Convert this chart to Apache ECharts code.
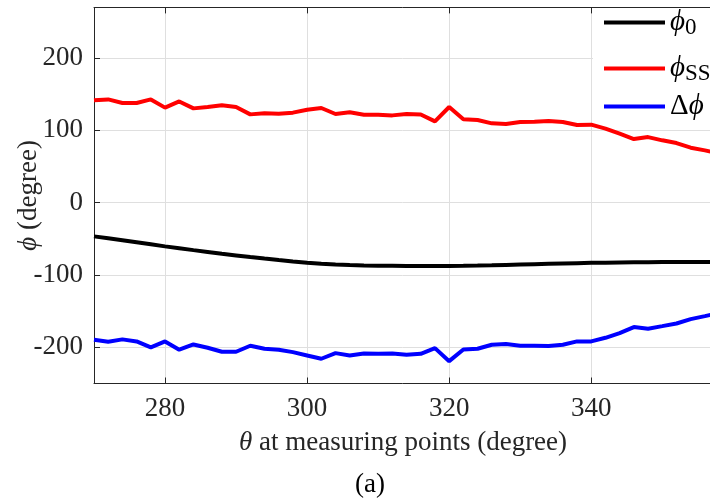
<!DOCTYPE html>
<html>
<head>
<meta charset="utf-8">
<script src="https://cdn.jsdelivr.net/npm/echarts@6/dist/echarts.min.js"></script>
<style>
  html, body { margin: 0; padding: 0; background: #fff; }
  #chart { width: 710px; height: 501px; }
</style>
</head>
<body>
<div id="chart"></div>
<script>
var theta = [270, 272, 274, 276, 278, 280, 282, 284, 286, 288, 290, 292, 294, 296, 298,
  300, 302, 304, 306, 308, 310, 312, 314, 316, 318, 320, 322, 324, 326, 328,
  330, 332, 334, 336, 338, 340, 342, 344, 346, 348, 350, 352, 354, 356, 358];

var phi0 = [-46.6, -49.3, -52, -54.8, -57.6, -60.4, -63, -65.6, -68.1, -70.6, -72.9, -75.2, -77.3, -79.3, -81.2,
  -83, -84.3, -85.4, -86.2, -86.8, -87.1, -87.3, -87.5, -87.6, -87.6, -87.5, -87.3, -87, -86.6, -86.1,
  -85.6, -85.1, -84.6, -84.1, -83.6, -83.2, -82.9, -82.6, -82.4, -82.2, -82.1, -82, -82, -82, -82];

var phiSS = [141.5, 142.8, 137.8, 137.8, 142.8, 131.4, 140, 130.4, 132.3, 134.6, 132.3, 122.1, 123.5, 123, 124.5,
  128.6, 130.9, 122.6, 124.9, 121.7, 121.7, 120.7, 122.6, 122, 112.4, 132.3, 115.2, 114.3, 109.7, 108.8,
  111.5, 112, 112.9, 111.5, 107.3, 107.9, 102.4, 95.4, 88, 90.7, 86.2, 82.4, 76, 72.3, 68];

var dphi = [-189.5, -192.3, -189, -191.8, -200.1, -191.8, -203.3, -196, -200.6, -206.1, -206.1, -197.8, -202, -203.3, -206.6,
  -211.2, -215.8, -208, -211.2, -208.4, -208.9, -208.5, -210.3, -208.9, -201.1, -219.1, -202.9, -202, -196.4, -195.5,
  -197.8, -197.8, -198.3, -196.4, -191.8, -191.8, -186.8, -180.4, -172, -174.3, -170.7, -167, -161, -156.8, -152.5];

var xTicks = [280, 300, 320, 340];
var yTicks = [-200, -100, 0, 100, 200];

var names = ['φ0', 'φSS', 'Δφ'];
var colors = ['#000000', '#ff0000', '#0000ff'];

var font = 'Liberation Serif';
var axisColor = '#262626';
var gridColor = '#dfdfdf';

var chart = echarts.init(document.getElementById('chart'));

function pairs(values) {
  return values.map(function (v, i) { return [theta[i], v]; });
}

function legendAt(name, top) {
  return {
    data: [name],
    left: 604,
    top: top,
    padding: 0,
    icon: 'rect',
    itemWidth: 61,
    itemHeight: 4,
    selectedMode: false,
    formatter: function (n) {
      if (n === 'φ0') return '{i|ϕ}{s|0}';
      if (n === 'φSS') return '{i|ϕ}{s|SS}';
      return '{n|Δ}{i|ϕ}';
    },
    textStyle: {
      color: '#000',
      fontFamily: font,
      rich: {
        i: { fontFamily: font, fontStyle: 'italic', fontSize: 29, lineHeight: 34, color: '#000' },
        n: { fontFamily: font, fontSize: 29, lineHeight: 34, color: '#000' },
        s: { fontFamily: font, fontSize: 23, lineHeight: 23, verticalAlign: 'bottom', color: '#000' }
      }
    }
  };
}

var option = {
  animation: false,
  backgroundColor: '#fff',
  grid: { left: 94, right: -2, top: 7.4, bottom: 117.5, outerBoundsMode: 'none', containLabel: false },
  legend: [legendAt('φ0', 8), legendAt('φSS', 54), legendAt('Δφ', 92)],
  xAxis: [{
    type: 'value',
    min: 270,
    max: 357,
    name: '{i|θ} at measuring points (degree)',
    nameLocation: 'middle',
    nameGap: 46,
    nameMoveOverlap: false,
    nameTextStyle: {
      fontFamily: font, fontSize: 27, color: '#262626',
      rich: { i: { fontFamily: font, fontStyle: 'italic', fontSize: 27, color: '#262626' } }
    },
    axisLine: { show: true, onZero: false, lineStyle: { color: axisColor, width: 1 } },
    axisTick: { show: true, inside: true, length: 6, customValues: xTicks, lineStyle: { color: axisColor } },
    axisLabel: { customValues: xTicks, margin: 12, fontFamily: font, fontSize: 27, color: '#262626' },
    splitLine: { show: true, customValues: xTicks, lineStyle: { color: gridColor, width: 1 } }
  }, {
    type: 'value',
    position: 'top',
    min: 270,
    max: 357,
    axisLine: { show: true, onZero: false, lineStyle: { color: axisColor, width: 1 } },
    axisTick: { show: true, inside: true, length: 6, customValues: xTicks, lineStyle: { color: axisColor } },
    axisLabel: { show: false },
    splitLine: { show: false }
  }],
  yAxis: {
    type: 'value',
    min: -250,
    max: 270,
    name: '{i|ϕ} (degree)',
    nameLocation: 'middle',
    nameGap: 52,
    nameRotate: 90,
    nameMoveOverlap: false,
    nameTextStyle: {
      fontFamily: font, fontSize: 27, color: '#262626',
      rich: { i: { fontFamily: font, fontStyle: 'italic', fontSize: 27, color: '#262626' } }
    },
    axisLine: { show: true, onZero: false, lineStyle: { color: axisColor, width: 1 } },
    axisTick: { show: true, inside: true, length: 6, customValues: yTicks, lineStyle: { color: axisColor } },
    axisLabel: { customValues: yTicks, margin: 11, fontFamily: font, fontSize: 27, color: '#262626' },
    splitLine: { show: true, customValues: yTicks, lineStyle: { color: gridColor, width: 1 } }
  },
  graphic: [{
    type: 'rect',
    z: 1,
    shape: { x: 593, y: 8, width: 120, height: 114 },
    style: { fill: '#fff' }
  }, {
    type: 'text',
    left: 355,
    top: 471,
    style: { text: '(a)', font: '27px "Liberation Serif"', fill: '#000' }
  }],
  series: [0, 1, 2].map(function (k) {
    return {
      name: names[k],
      type: 'line',
      data: pairs([phi0, phiSS, dphi][k]),
      symbol: 'none',
      showSymbol: false,
      color: colors[k],
      lineStyle: { color: colors[k], width: 4 },
      z: 3
    };
  })
};

chart.setOption(option);
</script>
</body>
</html>
